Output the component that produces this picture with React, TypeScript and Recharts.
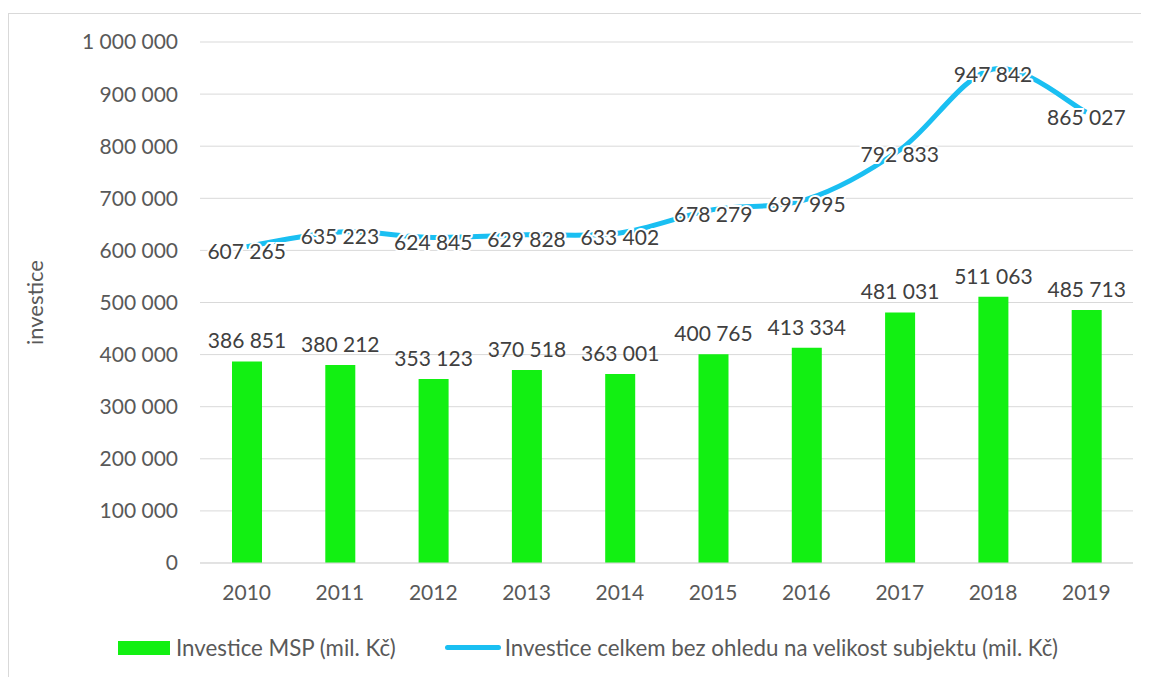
import React from "react";
import {
  ComposedChart,
  Bar,
  Line,
  XAxis,
  YAxis,
  CartesianGrid,
  LabelList,
} from "recharts";

const years = ["2010", "2011", "2012", "2013", "2014", "2015", "2016", "2017", "2018", "2019"];
const mspValues = [386851, 380212, 353123, 370518, 363001, 400765, 413334, 481031, 511063, 485713];
const totalValues = [607265, 635223, 624845, 629828, 633402, 678279, 697995, 792833, 947842, 865027];
const yTicks = [0, 100000, 200000, 300000, 400000, 500000, 600000, 700000, 800000, 900000, 1000000];

const mspName = "Investice MSP (mil. Kč)";
const totalName = "Investice celkem bez ohledu na velikost subjektu (mil. Kč)";

const data = years.map((year, i) => ({
  year,
  msp: mspValues[i],
  total: totalValues[i],
}));

const FONT = "Lato, 'Open Sans', sans-serif";
const GREEN = "#12F012";
const BLUE = "#1ABFF2";

const fmt = (v: number) => String(v).replace(/\B(?=(\d{3})+(?!\d))/g, " ");

// Excel-like smoothing: catmull-rom bezier, control points at 1/6 of neighbour span
const excelCurve = (context: any) => {
  let pts: [number, number][] = [];
  return {
    areaStart() {},
    areaEnd() {},
    lineStart() {
      pts = [];
    },
    point(x: number, y: number) {
      pts.push([x, y]);
    },
    lineEnd() {
      if (!pts.length) return;
      context.moveTo(pts[0][0], pts[0][1]);
      for (let i = 0; i < pts.length - 1; i++) {
        const p0 = pts[Math.max(i - 1, 0)];
        const p1 = pts[i];
        const p2 = pts[i + 1];
        const p3 = pts[Math.min(i + 2, pts.length - 1)];
        context.bezierCurveTo(
          p1[0] + (p2[0] - p0[0]) / 6,
          p1[1] + (p2[1] - p0[1]) / 6,
          p2[0] - (p3[0] - p1[0]) / 6,
          p2[1] - (p3[1] - p1[1]) / 6,
          p2[0],
          p2[1]
        );
      }
    },
  };
};

// line labels sit on the point, with a white halo that cuts the line and grid
const LineLabel = (props: any) => {
  const { x, y, value } = props;
  return (
    <text
      x={x}
      y={y + 5}
      dy="0.35em"
      textAnchor="middle"
      fill="#404040"
      fontSize={21}
      fontFamily={FONT}
      stroke="#ffffff"
      strokeWidth={4}
      paintOrder="stroke"
    >
      {fmt(value)}
    </text>
  );
};

const BarLabel = (props: any) => {
  const { x, y, width, value } = props;
  return (
    <text
      x={x + width / 2}
      y={y - 13}
      textAnchor="middle"
      fill="#404040"
      fontSize={21}
      fontFamily={FONT}
    >
      {fmt(value)}
    </text>
  );
};

const App = () => {
  return (
    <div
      style={{
        width: 1160,
        height: 700,
        marginTop: 5,
        border: "1px solid #d9d9d9",
        position: "relative",
        fontFamily: FONT,
      }}
    >
      <ComposedChart
        width={1140}
        height={600}
        data={data}
        margin={{ top: 28, right: 16, left: 71, bottom: 11 }}
      >
        <CartesianGrid stroke="#d9d9d9" vertical={false} />
        <XAxis
          dataKey="year"
          height={40}
          tickLine={false}
          tickSize={0}
          tickMargin={22}
          axisLine={{ stroke: "#d9d9d9" }}
          tick={{ fontSize: 21, fill: "#595959", fontFamily: FONT }}
        />
        <YAxis
          width={120}
          domain={[0, 1000000]}
          ticks={yTicks}
          axisLine={false}
          tickLine={false}
          tickSize={0}
          tickMargin={22}
          tickFormatter={fmt}
          tick={{ fontSize: 21, fill: "#595959", fontFamily: FONT }}
          label={{
            value: "investice",
            angle: -90,
            position: "insideLeft",
            offset: -45,
            textAnchor: "middle",
            style: { fontSize: 22, fill: "#595959", fontFamily: FONT, textAnchor: "middle" },
          }}
        />
        <Bar dataKey="msp" name={mspName} fill={GREEN} barSize={30} isAnimationActive={false}>
          <LabelList dataKey="msp" content={BarLabel} />
        </Bar>
        <Line
          dataKey="total"
          name={totalName}
          type={excelCurve as any}
          stroke={BLUE}
          strokeWidth={5}
          dot={false}
          isAnimationActive={false}
        >
          <LabelList dataKey="total" content={LineLabel} />
        </Line>
      </ComposedChart>
      <div
        style={{
          position: "absolute",
          left: 0,
          top: 620,
          width: 1140,
          display: "flex",
          alignItems: "center",
          fontSize: 22.3,
          color: "#595959",
        }}
      >
        <span style={{ display: "inline-block", width: 52, height: 14, background: GREEN, marginLeft: 109, marginRight: 6 }} />
        <span>{mspName}</span>
        <span
          style={{
            display: "inline-block",
            width: 56,
            height: 5,
            borderRadius: 3,
            background: BLUE,
            marginLeft: 49,
            marginRight: 4,
          }}
        />
        <span>{totalName}</span>
      </div>
    </div>
  );
};

export default App;
